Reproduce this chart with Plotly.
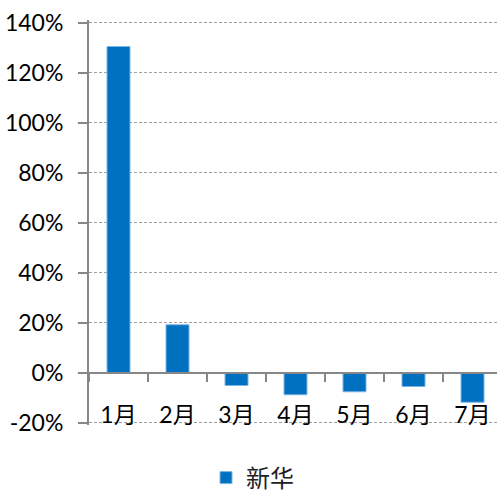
import plotly.graph_objects as go

months = ["1月", "2月", "3月", "4月", "5月", "6月", "7月"]
xinhua = [130.4, 19.1, -5.2, -8.9, -7.7, -5.6, -11.9]
series_name = "新华"
y_ticks = [-20, 0, 20, 40, 60, 80, 100, 120, 140]
y_ticktext = [f"{v}%" for v in y_ticks]

FONT = "Lato, 'Noto Sans CJK SC', sans-serif"

fig = go.Figure()
fig.add_trace(go.Bar(
    x=months, y=xinhua, name=series_name, width=0.39,
    marker=dict(color="#0070C0", line=dict(color="#7FB5E3", width=1)),
))

W, H = 497, 495
L, R, T, B = 89, 0, 20, 70
y_lo, y_hi = -21, 141

fig.update_layout(
    width=W, height=H,
    margin=dict(l=L, r=R, t=T, b=B, pad=0, autoexpand=False),
    paper_bgcolor="white", plot_bgcolor="white",
    font=dict(family=FONT, size=23, color="#000000"),
    showlegend=True,
    legend=dict(orientation="h", x=(206 - L) / (W - L - R), xanchor="left",
                y=(H - B - 478) / (H - T - B), yanchor="middle",
                font=dict(size=24, family="'Noto Sans CJK SC', sans-serif", color="#222222"),
                bgcolor="rgba(0,0,0,0)"),
    xaxis=dict(
        type="category", range=[-0.5, 6.415], automargin=False,
        anchor="free", position=(0 - y_lo) / (y_hi - y_lo),
        showline=True, linecolor="#878787", linewidth=2,
        ticks="outside", tickson="boundaries", ticklen=8, tickcolor="#878787", tickwidth=2,
        showgrid=False, zeroline=False,
        ticklabelstandoff=22,
        tickfont=dict(size=23, family=FONT),
    ),
    yaxis=dict(
        range=[y_lo, y_hi], tickvals=y_ticks, ticktext=y_ticktext, automargin=False,
        showline=True, linecolor="#878787", linewidth=2,
        ticks="outside", ticklen=9, tickcolor="#878787", tickwidth=2,
        showgrid=True, gridcolor="#A0A0A0", gridwidth=1, griddash="3px,2px",
        zeroline=False,
        ticklabelstandoff=10,
        tickfont=dict(size=23, family=FONT),
    ),
)

fig.write_html("out.html")
